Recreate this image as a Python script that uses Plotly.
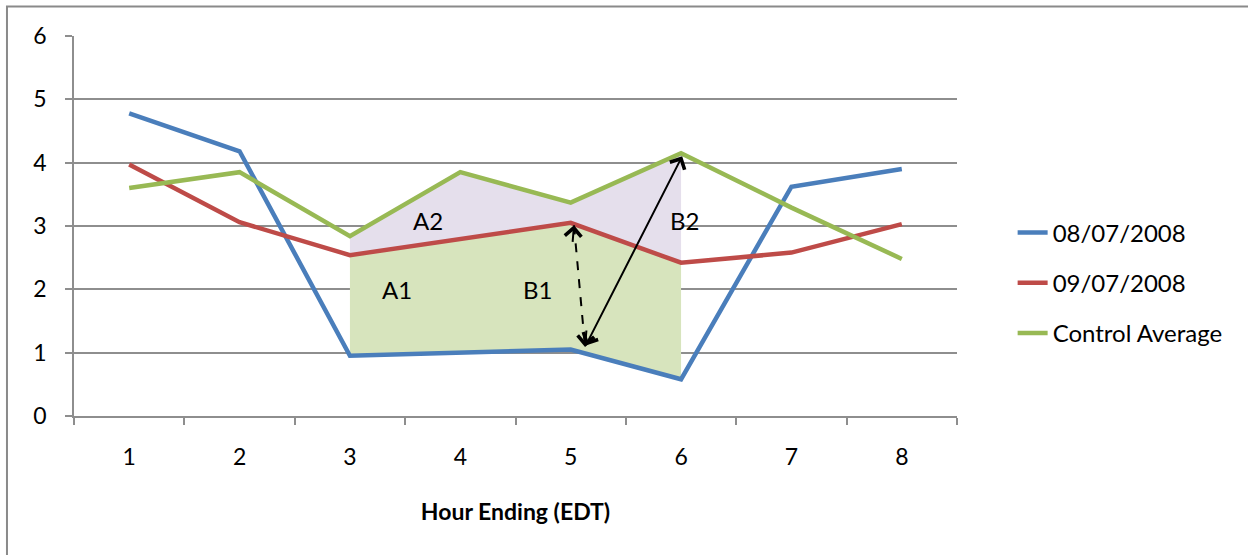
import plotly.graph_objects as go

# Hourly values
hours = ["1", "2", "3", "4", "5", "6", "7", "8"]
day_0807 = [4.78, 4.18, 0.95, 1.00, 1.05, 0.58, 3.62, 3.90]
day_0907 = [3.97, 3.06, 2.54, 2.79, 3.05, 2.42, 2.58, 3.03]
control_avg = [3.60, 3.85, 2.84, 3.85, 3.37, 4.15, 3.29, 2.48]
series_names = ["08/07/2008", "09/07/2008", "Control Average"]
event_hours = ["3", "4", "5", "6"]
y_ticks = [0, 1, 2, 3, 4, 5, 6]

FONT = "Lato, 'Open Sans', sans-serif"
GRID = "#8e8e8e"
colors = ["#4a7ebb", "#be4b48", "#98b954"]

idx = [hours.index(h) for h in event_hours]
ev_blue = [day_0807[i] for i in idx]
ev_red = [day_0907[i] for i in idx]
ev_green = [control_avg[i] for i in idx]

fig = go.Figure()

# shaded areas during the event window (drawn beneath the lines)
fig.add_trace(go.Scatter(x=event_hours, y=ev_blue, mode="lines", line=dict(width=0),
                         showlegend=False, hoverinfo="skip"))
fig.add_trace(go.Scatter(x=event_hours, y=ev_red, mode="lines", line=dict(width=0),
                         fill="tonexty", fillcolor="#d7e4bd",
                         showlegend=False, hoverinfo="skip"))
fig.add_trace(go.Scatter(x=event_hours, y=ev_green, mode="lines", line=dict(width=0),
                         fill="tonexty", fillcolor="#e5dfec",
                         showlegend=False, hoverinfo="skip"))

for name, vals, col in zip(series_names, [day_0807, day_0907, control_avg], colors):
    fig.add_trace(go.Scatter(x=hours, y=vals, mode="lines", name=name,
                             line=dict(color=col, width=4.5), legendgroup=name))

# region labels
labels = [("A1", 2.43, 1.99), ("A2", 2.71, 3.09), ("B1", 3.70, 1.99), ("B2", 5.03, 3.08)]
for txt, xx, yy in labels:
    fig.add_annotation(x=xx, y=yy, xref="x", yref="y", text=txt, showarrow=False,
                       font=dict(family=FONT, size=24, color="#000000"))

# B1: dashed double arrow between 09/07 and 08/07 at hour 5
i5 = hours.index("5")
i6 = hours.index("6")
b1_top = (i5 + 0.03, day_0907[i5] - 0.04)
b1_bot = (i5 + 0.13, day_0807[i5] + 0.04)
fig.add_shape(type="line", xref="x", yref="y",
              x0=b1_top[0], y0=b1_top[1], x1=b1_bot[0], y1=b1_bot[1],
              line=dict(color="black", width=2, dash="dash"))
for (hx, hy), (ox, oy) in [(b1_top, (-1.5, 18)), (b1_bot, (1.5, -18))]:
    fig.add_annotation(x=hx, y=hy, xref="x", yref="y", ax=ox, ay=oy, text="",
                       showarrow=True, arrowhead=4, arrowsize=1.6, arrowwidth=2,
                       arrowcolor="black")

# B2: solid double arrow from 08/07 at hour 5 up to control average at hour 6
fig.add_annotation(x=i6 + 0.01, y=control_avg[i6] - 0.05, xref="x", yref="y",
                   ax=b1_bot[0], ay=b1_bot[1], axref="x", ayref="y", text="",
                   showarrow=True, arrowside="end+start", arrowhead=4, startarrowhead=4,
                   arrowsize=1.6, startarrowsize=1.6, arrowwidth=2, arrowcolor="black")

# outer chart frame
fig.add_shape(type="rect", xref="paper", yref="paper",
              x0=-0.0759, x1=1.5, y0=-0.6, y1=1.0776,
              line=dict(color="#8a8a8a", width=2), fillcolor="rgba(0,0,0,0)")

fig.update_layout(
    width=1248, height=555, autosize=False,
    margin=dict(l=74, r=291, t=36, b=139),
    paper_bgcolor="white", plot_bgcolor="white",
    font=dict(family=FONT, size=23, color="#000000"),
    legend=dict(x=1.063, y=0.35, xanchor="left", yanchor="middle",
                font=dict(family=FONT, size=24), tracegroupgap=16,
                bgcolor="rgba(0,0,0,0)"),
    xaxis=dict(type="category", categoryorder="array", categoryarray=hours,
               range=[-0.5, len(hours) - 0.5],
               tickson="boundaries", ticks="outside", ticklen=7, tickcolor=GRID,
               tickwidth=1.5, showline=True, linecolor=GRID, linewidth=1.5,
               showgrid=False, ticklabelstandoff=20,
               tickfont=dict(family=FONT, size=23),
               title=dict(text="<b>Hour Ending (EDT)</b>", standoff=35,
                          font=dict(family=FONT, size=23))),
    yaxis=dict(range=[0, 6], tickvals=y_ticks, ticks="outside", ticklen=7,
               tickcolor=GRID, tickwidth=1.5, showline=True, linecolor=GRID,
               linewidth=1.5, showgrid=True, gridcolor=GRID, gridwidth=1.5,
               zeroline=False, ticklabelstandoff=14,
               tickfont=dict(family=FONT, size=23)),
)

fig.write_html("out.html")
